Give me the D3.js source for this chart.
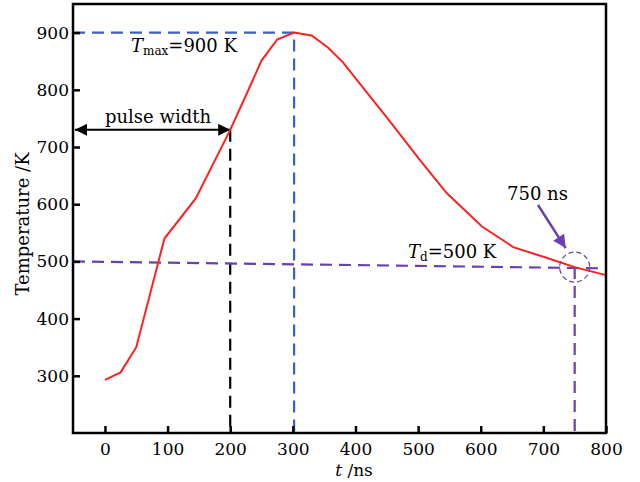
<!DOCTYPE html>
<html>
<head>
<meta charset="utf-8">
<script src="https://cdn.jsdelivr.net/npm/d3@7"></script>
<style>
  body { margin: 0; background: #fff; }
  text { font-family: "DejaVu Serif", serif; fill: #000; }
</style>
</head>
<body>
<div id="chart"></div>
<script>
// temperature curve
const timeNs = [0, 25, 50, 95, 145, 200, 225, 250, 275, 302, 330, 356, 380, 412, 450, 503, 546, 602, 652, 700, 750, 800];
const tempK = [293, 306, 350, 540, 610, 730, 790, 851, 888, 900, 895, 874, 848, 804, 752, 677, 619, 561, 525, 508, 490, 476];

const xTicks = [0, 100, 200, 300, 400, 500, 600, 700, 800];
const yTicks = [300, 400, 500, 600, 700, 800, 900];

// annotation values
const tMax = [302, 900];
const pulse = [200, 730];
const tdLine = [[-51, 500], [790, 488]];
const tdPoint = [750, 490];

const width = 640, height = 482;
const margin = { top: 4, right: 34, bottom: 49, left: 73 };

const svg = d3.select("#chart").append("svg")
  .attr("width", width)
  .attr("height", height);

const x = d3.scaleLinear().domain([-51, 800]).range([margin.left, width - margin.right]);
const y = d3.scaleLinear().domain([200, 950]).range([height - margin.bottom, margin.top]);

const defs = svg.append("defs");
function marker(id, color, w, h) {
  defs.append("marker")
    .attr("id", id)
    .attr("viewBox", "0 0 10 10")
    .attr("refX", 10).attr("refY", 5)
    .attr("markerWidth", w).attr("markerHeight", h)
    .attr("markerUnits", "userSpaceOnUse")
    .attr("orient", "auto-start-reverse")
    .append("path")
    .attr("d", "M0,0 L10,5 L0,10 Z")
    .attr("fill", color);
}
marker("arrBlack", "#000", 15, 12);
marker("arrPurple", "#6a3fb0", 15, 13);

const x0 = x.domain()[0], y0 = y.domain()[0];
const blue = "#3b5fc4", purple = "#6a3fb0";

// Tmax dashed lines
svg.append("path")
  .attr("d", d3.line()([[x(x0), y(tMax[1])], [x(tMax[0]), y(tMax[1])], [x(tMax[0]), y(y0)]]))
  .attr("fill", "none").attr("stroke", blue).attr("stroke-width", 2.2).attr("stroke-dasharray", "12,7");

// pulse width vertical dashed
svg.append("line")
  .attr("x1", x(pulse[0])).attr("x2", x(pulse[0]))
  .attr("y1", y(pulse[1])).attr("y2", y(y0))
  .attr("stroke", "#000").attr("stroke-width", 2.2).attr("stroke-dasharray", "12,7");

// pulse width arrow
svg.append("line")
  .attr("x1", x(x0) + 2).attr("x2", x(pulse[0]))
  .attr("y1", y(pulse[1])).attr("y2", y(pulse[1]))
  .attr("stroke", "#000").attr("stroke-width", 2)
  .attr("marker-start", "url(#arrBlack)")
  .attr("marker-end", "url(#arrBlack)");

// Td lines
svg.append("line")
  .attr("x1", x(tdLine[0][0])).attr("y1", y(tdLine[0][1]))
  .attr("x2", x(tdLine[1][0])).attr("y2", y(tdLine[1][1]))
  .attr("stroke", purple).attr("stroke-width", 2.2).attr("stroke-dasharray", "12,7");
svg.append("line")
  .attr("x1", x(tdPoint[0])).attr("x2", x(tdPoint[0]))
  .attr("y1", y(tdPoint[1])).attr("y2", y(y0))
  .attr("stroke", purple).attr("stroke-width", 2.2).attr("stroke-dasharray", "12,7");
svg.append("circle")
  .attr("cx", x(tdPoint[0])).attr("cy", y(tdPoint[1])).attr("r", 15)
  .attr("fill", "none").attr("stroke", purple).attr("stroke-width", 1.2).attr("stroke-dasharray", "5,3");

// curve
svg.append("path")
  .datum(d3.zip(timeNs, tempK))
  .attr("d", d3.line().x(d => x(d[0])).y(d => y(d[1])))
  .attr("fill", "none").attr("stroke", "#ff2020").attr("stroke-width", 2);

// 750 ns arrow
svg.append("line")
  .attr("x1", 538).attr("y1", 205)
  .attr("x2", x(tdPoint[0]) - 9).attr("y2", y(tdPoint[1]) - 19)
  .attr("stroke", purple).attr("stroke-width", 2.5)
  .attr("marker-end", "url(#arrPurple)");

// axes
const plot = svg.append("g");
plot.append("g")
  .attr("transform", `translate(0,${height - margin.bottom})`)
  .call(d3.axisBottom(x).tickValues(xTicks).tickSizeInner(-7).tickSizeOuter(0).tickPadding(10))
  .call(g => g.select(".domain").remove());
plot.append("g")
  .attr("transform", `translate(${margin.left},0)`)
  .call(d3.axisLeft(y).tickValues(yTicks).tickSizeInner(-7).tickSizeOuter(0).tickPadding(4))
  .call(g => g.select(".domain").remove());
plot.selectAll(".tick line").attr("stroke", "#000").attr("stroke-width", 2.5);
plot.selectAll(".tick text").attr("font-size", 17).attr("font-family", "DejaVu Serif").attr("fill", "#000");

svg.append("rect")
  .attr("x", margin.left).attr("y", margin.top)
  .attr("width", width - margin.left - margin.right)
  .attr("height", height - margin.top - margin.bottom)
  .attr("fill", "none").attr("stroke", "#000").attr("stroke-width", 2.5);

// labels
const tm = svg.append("text").attr("x", 131).attr("y", 52).attr("font-size", 18);
tm.append("tspan").attr("font-style", "italic").text("T");
tm.append("tspan").attr("font-size", 12).attr("dy", 3).text("max");
tm.append("tspan").attr("dy", -3).text("=900 K");

svg.append("text").attr("x", 158).attr("y", 123).attr("font-size", 18)
  .attr("text-anchor", "middle").text("pulse width");

const td = svg.append("text").attr("x", 408).attr("y", 258).attr("font-size", 18);
td.append("tspan").attr("font-style", "italic").text("T");
td.append("tspan").attr("font-size", 12).attr("dy", 3).text("d");
td.append("tspan").attr("dy", -3).text("=500 K");

svg.append("text").attr("x", 507).attr("y", 200).attr("font-size", 18).text("750 ns");

const xl = svg.append("text").attr("x", 354).attr("y", 476).attr("font-size", 17)
  .attr("text-anchor", "middle");
xl.append("tspan").attr("font-style", "italic").text("t");
xl.append("tspan").text(" /ns");

svg.append("text")
  .attr("transform", "translate(29,224) rotate(-90)")
  .attr("font-size", 18).attr("text-anchor", "middle")
  .text("Temperature /K");
</script>
</body>
</html>
